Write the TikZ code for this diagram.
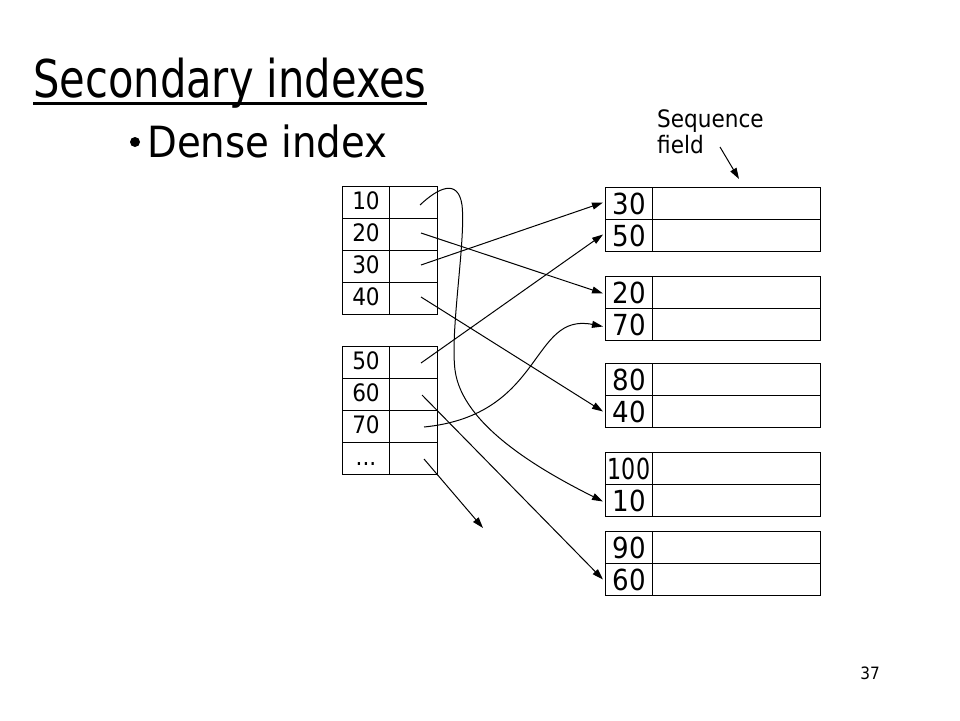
\documentclass[tikz,border=0pt]{standalone}
\usepackage{fontspec}
\setmainfont{DejaVu Sans Condensed}
\usetikzlibrary{arrows.meta}
\tikzset{
  keycell/.style={draw, line width=1pt, minimum width=47pt, minimum height=32pt, inner sep=0pt, anchor=north west, text height=17pt, text depth=3pt},
  ptrcell/.style={draw, line width=1pt, minimum width=48pt, minimum height=32pt, inner sep=0pt, anchor=north west},
  reckey/.style={draw, line width=1pt, minimum width=47pt, minimum height=32pt, inner sep=0pt, anchor=north west, font=\fontsize{29}{30}\selectfont},
  recdata/.style={draw, line width=1pt, minimum width=168pt, minimum height=32pt, inner sep=0pt, anchor=north west},
  ptr/.style={line width=1pt, -{Triangle[length=11pt,width=7pt]}},
}
\begin{document}
\begin{tikzpicture}[x=1pt,y=-1pt]
\useasboundingbox (0,0) rectangle (960,720);
% title
\node[anchor=base west, inner sep=0pt, font=\fontsize{52}{56}\selectfont] (title) at (33,97) {\scalebox{0.89}[1]{Secondary indexes}};
\draw[line width=3pt] (title.base west) ++(0,6) coordinate (ul1) -- (title.base east |- ul1);
\fill (135,142) circle (5pt) coordinate (bul);
\node[anchor=base west, inner sep=0pt, font=\fontsize{43}{48}\selectfont] (dense) at (147,157) {Dense index};
\node[anchor=base west, inner sep=0pt, align=left, font=\fontsize{24}{26}\selectfont] (seq) at (657,153) {Sequence\\field};
\coordinate (seqs) at (720,147);
\coordinate (seqe) at (739,179);
\draw[ptr] (seqs) -- (seqe);
\node[anchor=base east, inner sep=0pt, font=\fontsize{17}{20}\selectfont] (pg) at (880,679) {37};
% left index
\begin{scope}[font=\fontsize{24}{26}\selectfont]
\node[keycell] (k10) at (342,186) {10};
\node[keycell] (k20) at (342,218) {20};
\node[keycell] (k30) at (342,250) {30};
\node[keycell] (k40) at (342,282) {40};
\node[ptrcell] (p10) at (389,186) {};
\node[ptrcell] (p20) at (389,218) {};
\node[ptrcell] (p30) at (389,250) {};
\node[ptrcell] (p40) at (389,282) {};
\node[keycell] (k50) at (342,346) {50};
\node[keycell] (k60) at (342,378) {60};
\node[keycell] (k70) at (342,410) {70};
\node[keycell] (kdd) at (342,442) {...};
\node[ptrcell] (p50) at (389,346) {};
\node[ptrcell] (p60) at (389,378) {};
\node[ptrcell] (p70) at (389,410) {};
\node[ptrcell] (pdd) at (389,442) {};
\end{scope}
% right data file
\node[reckey] (r30) at (605,187) {30};
\node[reckey] (r50) at (605,219) {50};
\node[recdata] (d30) at (652,187) {};
\node[recdata] (d50) at (652,219) {};
\node[reckey] (r20) at (605,276) {20};
\node[reckey] (r70) at (605,308) {70};
\node[recdata] (d20) at (652,276) {};
\node[recdata] (d70) at (652,308) {};
\node[reckey] (r80) at (605,363) {80};
\node[reckey] (r40) at (605,395) {40};
\node[recdata] (d80) at (652,363) {};
\node[recdata] (d40) at (652,395) {};
\node[reckey] (r100) at (605,452) {\scalebox{0.85}[1]{100}};
\node[reckey] (r10) at (605,484) {10};
\node[recdata] (d100) at (652,452) {};
\node[recdata] (d10) at (652,484) {};
\node[reckey] (r90) at (605,531) {90};
\node[reckey] (r60) at (605,563) {60};
\node[recdata] (d90) at (652,531) {};
\node[recdata] (d60) at (652,563) {};
% pointer origins
\coordinate (s10) at (420,205);
\coordinate (s20) at (421,233);
\coordinate (s30) at (421,265);
\coordinate (s40) at (421,297);
\coordinate (s50) at (421,363);
\coordinate (s60) at (422,395);
\coordinate (s70) at (424,427);
\coordinate (sdd) at (424,459);
\coordinate (edd) at (483,528);
% pointers
\draw[ptr] (s30) -- ([xshift=-2pt,yshift=1pt]r30.west);
\draw[ptr] (s50) -- ([xshift=-2pt,yshift=1pt]r50.west);
\draw[ptr] (s20) -- ([xshift=-2pt,yshift=-1pt]r20.west);
\draw[ptr] (s40) -- ([xshift=-2pt]r40.west);
\draw[ptr] (s60) -- ([xshift=-2pt]r60.west);
\draw[ptr] (s70) .. controls (545,415) and (530,312) .. ([xshift=-2pt,yshift=-2pt]r70.west);
\draw[ptr] (s10) .. controls (438,188) and (458,178) .. (462,205)
   .. controls (466,240) and (450,330) .. (455,370)
   .. controls (462,425) and (540,470) .. ([xshift=-2pt,yshift=-1pt]r10.west);
\draw[ptr] (sdd) -- (edd);
\end{tikzpicture}
\end{document}
